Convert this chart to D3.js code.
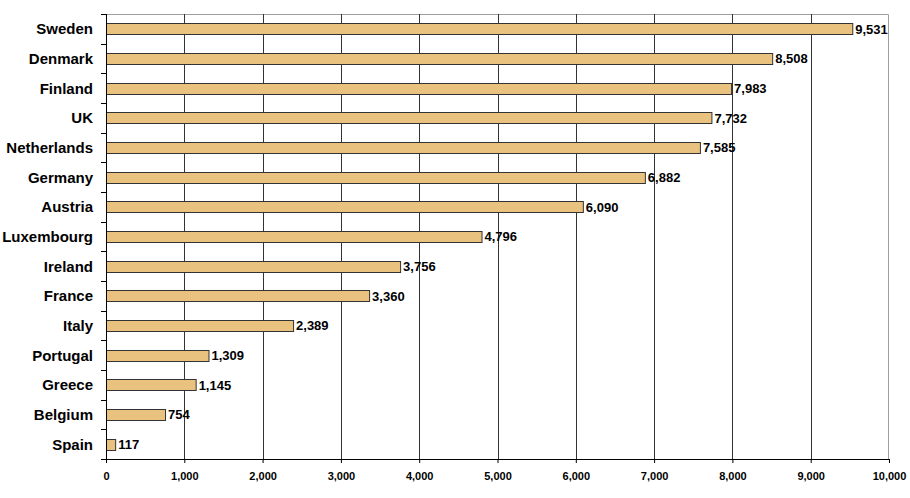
<!DOCTYPE html>
<html>
<head>
<meta charset="utf-8">
<script src="https://cdn.jsdelivr.net/npm/d3@7"></script>
<style>
  body { margin: 0; background: #fff; }
  svg text { font-family: "Liberation Sans", Arial, sans-serif; font-weight: bold; fill: #000; }
</style>
</head>
<body>
<div class="chart"></div>
<script>
// data
var countries = ["Sweden", "Denmark", "Finland", "UK", "Netherlands", "Germany", "Austria",
    "Luxembourg", "Ireland", "France", "Italy", "Portugal", "Greece", "Belgium", "Spain"];
var values = [9531, 8508, 7983, 7732, 7585, 6882, 6090, 4796, 3756, 3360, 2389, 1309, 1145, 754, 117];
var tickValues = [0, 1000, 2000, 3000, 4000, 5000, 6000, 7000, 8000, 9000, 10000];

var margin = { top: 14, right: 21, bottom: 39, left: 106 },
    width = 910 - margin.left - margin.right,
    height = 498 - margin.top - margin.bottom;

var fmt = d3.format(",");

var x = d3.scaleLinear()
    .domain([0, 10000])
    .range([0, width]);

var y = d3.scaleBand()
    .domain(countries)
    .range([0, height])
    .paddingInner(0.62)
    .paddingOuter(0.31);

var svg = d3.select(".chart")
    .append("svg")
    .attr("width", width + margin.left + margin.right)
    .attr("height", height + margin.top + margin.bottom)
    .append("g")
    .attr("transform", "translate(" + margin.left + "," + margin.top + ")");

// plot border (top, right)
svg.append("path")
    .attr("d", "M0,0.5H" + (width - 0.5) + "V" + height)
    .attr("fill", "none")
    .attr("stroke", "#a0a0a0");

// gridlines
svg.selectAll(".grid")
    .data(tickValues.slice(1, -1))
    .enter().append("line")
    .attr("class", "grid")
    .attr("x1", function (d) { return Math.round(x(d)) + 0.5; })
    .attr("x2", function (d) { return Math.round(x(d)) + 0.5; })
    .attr("y1", 0)
    .attr("y2", height)
    .attr("stroke", "#333");

// bars
svg.selectAll(".bar")
    .data(values)
    .enter().append("rect")
    .attr("class", "bar")
    .attr("x", 0.5)
    .attr("y", function (d, i) { return Math.round(y(countries[i])) + 0.5; })
    .attr("width", function (d) { return x(d); })
    .attr("height", Math.round(y.bandwidth()))
    .attr("fill", "#eac27f")
    .attr("stroke", "#333")
    .attr("stroke-width", 1);

// value labels
svg.selectAll(".val")
    .data(values)
    .enter().append("text")
    .attr("class", "val")
    .attr("x", function (d) { return x(d) + 3; })
    .attr("y", function (d, i) { return y(countries[i]) + y.bandwidth() / 2; })
    .attr("dy", "0.36em")
    .style("font-size", "13px")
    .text(function (d) { return fmt(d); });

// left axis: category separators
var sep = d3.range(countries.length + 1).map(function (i) { return i * height / countries.length; });
svg.append("line")
    .attr("x1", 0.5).attr("x2", 0.5)
    .attr("y1", 0).attr("y2", height)
    .attr("stroke", "#000");
svg.selectAll(".ytick")
    .data(sep)
    .enter().append("line")
    .attr("class", "ytick")
    .attr("x1", -5).attr("x2", 0)
    .attr("y1", function (d) { return Math.round(d) + 0.5; })
    .attr("y2", function (d) { return Math.round(d) + 0.5; })
    .attr("stroke", "#000");
svg.selectAll(".ylab")
    .data(countries)
    .enter().append("text")
    .attr("class", "ylab")
    .attr("x", -13)
    .attr("y", function (d) { return y(d) + y.bandwidth() / 2; })
    .attr("dy", "0.36em")
    .attr("text-anchor", "end")
    .style("font-size", "15px")
    .text(function (d) { return d; });

// bottom axis
var xAxis = svg.append("g")
    .attr("transform", "translate(0," + height + ")")
    .call(d3.axisBottom(x).tickValues(tickValues).tickFormat(fmt).tickSize(4).tickSizeOuter(0));
xAxis.select(".domain").attr("stroke", "#000");
xAxis.selectAll("text")
    .attr("y", 13)
    .style("font-size", "11px");
</script>
</body>
</html>
